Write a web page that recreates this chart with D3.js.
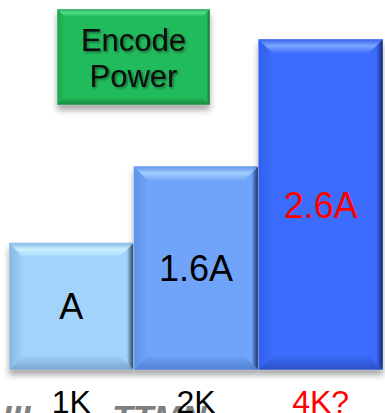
<!DOCTYPE html>
<html>
<head>
<meta charset="utf-8">
<script src="https://cdn.jsdelivr.net/npm/d3@7"></script>
<style>
  html, body { margin: 0; padding: 0; background: #ffffff; overflow: hidden; }
  svg { display: block; }
</style>
</head>
<body>
<svg id="chart" width="385" height="413"></svg>
<script>
// Encode power by resolution
const categories = ["1K", "2K", "4K?"];
const values = [1, 1.6, 2.6];
const valueLabels = ["A", "1.6A", "2.6A"];
const titleLines = ["Encode", "Power"];

// Bevel palettes, one per bar
const palettes = [
  { main: "#a2d3fb", hi: "#caf0ff", left: "#86b8e6", right: "#2e465e", bottom: "#7aa4cf" },
  { main: "#6fa4fa", hi: "#a0ccff", left: "#5d92ea", right: "#1c336a", bottom: "#5380d2" },
  { main: "#3b6cfb", hi: "#7aa4ff", left: "#3260ec", right: "#12286e", bottom: "#2b50c4" }
];
const labelColors = ["#000000", "#000000", "#ff0000"];
const FONT = "'Liberation Sans', Arial, sans-serif";

const svg = d3.select("#chart");
const defs = svg.append("defs");

const shadow = defs.append("filter").attr("id", "dropShadow")
  .attr("x", "-10%").attr("y", "-10%").attr("width", "120%").attr("height", "130%");
shadow.append("feDropShadow").attr("dx", 0).attr("dy", 5).attr("stdDeviation", 3)
  .attr("flood-color", "#000").attr("flood-opacity", 0.35);

const textShadow = defs.append("filter").attr("id", "textShadow")
  .attr("x", "-10%").attr("y", "-20%").attr("width", "130%").attr("height", "150%");
textShadow.append("feDropShadow").attr("dx", 1.5).attr("dy", 1.5).attr("stdDeviation", 1.2)
  .attr("flood-color", "#000").attr("flood-opacity", 0.45);

function linear(id, horizontal, stops) {
  const g = defs.append("linearGradient").attr("id", id)
    .attr("x1", 0).attr("y1", 0)
    .attr("x2", horizontal ? 1 : 0).attr("y2", horizontal ? 0 : 1);
  stops.forEach(([o, c]) => g.append("stop").attr("offset", o).attr("stop-color", c));
  return `url(#${id})`;
}

// Draws a bevelled rectangle (face + four sloped edges)
function bevel(g, x0, y0, x1, y1, d, p, id) {
  const fills = {
    top: linear(id + "t", false, [[0, p.left], [0.45, p.hi], [1, p.main]]),
    bottom: linear(id + "b", false, [[0, p.main], [1, p.bottom]]),
    left: linear(id + "l", true, [[0, p.left], [1, p.main]]),
    right: linear(id + "r", true, [[0, p.main], [0.55, p.main], [1, p.right]])
  };
  const poly = pts => pts.map(q => q.join(",")).join(" ");
  g.append("rect").attr("x", x0).attr("y", y0).attr("width", x1 - x0).attr("height", y1 - y0)
    .attr("fill", p.main).attr("filter", "url(#dropShadow)");
  g.append("polygon").attr("points", poly([[x0, y0], [x0 + d, y0 + d], [x0 + d, y1 - d], [x0, y1]])).attr("fill", fills.left);
  g.append("polygon").attr("points", poly([[x1, y0], [x1, y1], [x1 - d, y1 - d], [x1 - d, y0 + d]])).attr("fill", fills.right);
  g.append("polygon").attr("points", poly([[x0, y1], [x1, y1], [x1 - d, y1 - d], [x0 + d, y1 - d]])).attr("fill", fills.bottom);
  g.append("polygon").attr("points", poly([[x0, y0], [x1, y0], [x1 - d, y0 + d], [x0 + d, y0 + d]])).attr("fill", fills.top);
  g.append("rect").attr("x", x0).attr("y", y0).attr("width", x1 - x0).attr("height", y1 - y0)
    .attr("fill", "none").attr("stroke", "rgba(255,255,255,0.35)").attr("stroke-width", 1);
}

// Grey heading partly below the visible area
svg.append("g").attr("fill", "#7f7f7f").attr("font-family", FONT)
  .attr("font-weight", "bold").attr("font-style", "italic").attr("font-size", 34)
  .selectAll("text").data([["III", 2], ["TTMN", 112]]).join("text")
  .attr("x", d => d[1]).attr("y", 429).text(d => d[0]);

// Scales
const x = d3.scaleBand().domain(categories).range([9, 383]).padding(0);
const y = d3.scaleLinear().domain([0, 2.6]).range([370, 39]);

const bars = svg.append("g");
categories.forEach((c, i) => {
  bevel(bars, x(c), y(values[i]), x(c) + x.bandwidth(), y(0), 15, palettes[i], "bar" + i);
});

// Value labels, centred in each bar
svg.append("g").attr("font-family", FONT).attr("font-size", 36).attr("text-anchor", "middle")
  .selectAll("text").data(categories).join("text")
  .attr("x", c => x(c) + x.bandwidth() / 2)
  .attr("y", (c, i) => (y(values[i]) + y(0)) / 2 + 13)
  .attr("fill", (c, i) => labelColors[i])
  .text((c, i) => valueLabels[i]);

// Category axis
const axis = svg.append("g").attr("transform", `translate(0,${y(0)})`)
  .call(d3.axisBottom(x).tickSize(0).tickPadding(20));
axis.select(".domain").remove();
axis.selectAll("text").attr("font-family", FONT).attr("font-size", 32)
  .attr("dy", "0.71em")
  .attr("fill", (c, i) => labelColors[i]);

// Title box
const box = svg.append("g");
bevel(box, 57, 9, 210, 105, 8,
  { main: "#22bb5c", hi: "#52dc8c", left: "#1ea552", right: "#0f6e34", bottom: "#15893f" }, "title");
box.append("g").attr("font-family", FONT).attr("font-size", 31).attr("text-anchor", "middle")
  .attr("fill", "#0a0a0a").attr("filter", "url(#textShadow)")
  .selectAll("text").data(titleLines).join("text")
  .attr("x", 133.5).attr("y", (d, i) => 51 + i * 36).text(d => d);
</script>
</body>
</html>
